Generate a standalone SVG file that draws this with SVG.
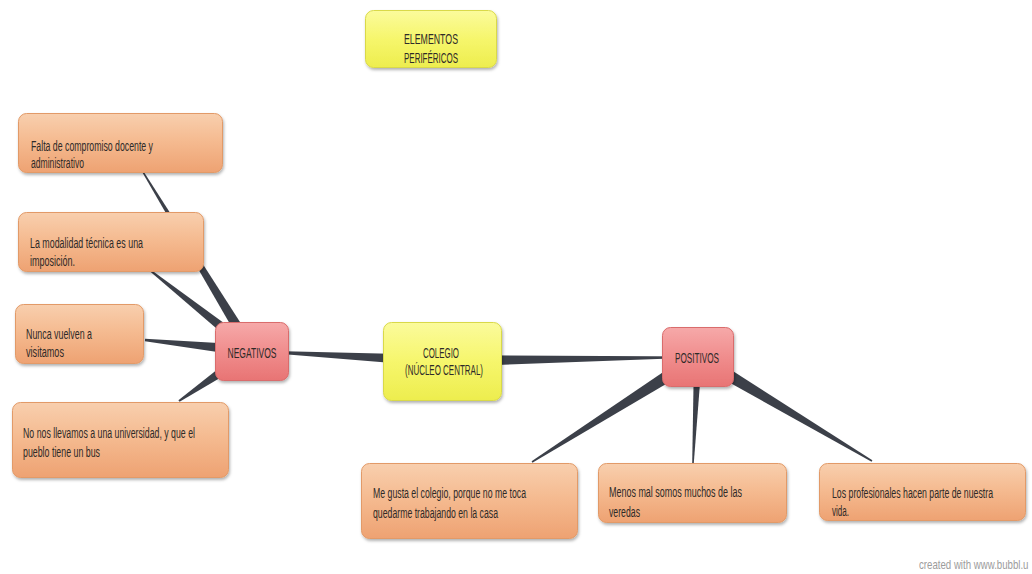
<svg xmlns="http://www.w3.org/2000/svg" width="1032" height="574" viewBox="0 0 1032 574">
<style>
text{font-family:"Liberation Sans",Arial,sans-serif;font-size:14px;fill:#2e2a28;}
.c{text-anchor:middle;}
.wm{font-size:13px;fill:#9c9c9c;}
.or{fill:url(#gOr);stroke:#e29a68;stroke-width:1;filter:url(#sh);}
.rd{fill:url(#gRd);stroke:#d96c6c;stroke-width:1;filter:url(#sh);}
.ye{fill:url(#gYe);stroke:#d9d94a;stroke-width:1;filter:url(#sh);}
.cn{fill:#3c4049;}
</style>
<defs>
<linearGradient id="gOr" x1="0" y1="0" x2="0" y2="1">
<stop offset="0" stop-color="#f8cfae"/><stop offset="0.45" stop-color="#f5bb91"/><stop offset="1" stop-color="#eea272"/>
</linearGradient>
<linearGradient id="gRd" x1="0" y1="0" x2="0" y2="1">
<stop offset="0" stop-color="#f6a9a9"/><stop offset="0.5" stop-color="#f08d8d"/><stop offset="1" stop-color="#e87474"/>
</linearGradient>
<linearGradient id="gYe" x1="0" y1="0" x2="0" y2="1">
<stop offset="0" stop-color="#fbfb9c"/><stop offset="0.5" stop-color="#f6f66c"/><stop offset="1" stop-color="#eded4e"/>
</linearGradient>
<filter id="sh" x="-10%" y="-10%" width="120%" height="130%">
<feDropShadow dx="1" dy="2" stdDeviation="1.5" flood-color="#000" flood-opacity="0.3"/>
</filter>
</defs>
<rect width="1032" height="574" fill="#ffffff"/>

<g id="connectors">
<polygon class="cn" points="142.4,172.4 247.3,353.9 256.7,348.1 143.6,171.6"/>
<polygon class="cn" points="150.4,271.8 248.3,355.7 255.7,346.3 151.6,270.2"/>
<polygon class="cn" points="144.9,341.2 251.4,357 252.6,345 145.1,338.8"/>
<polygon class="cn" points="179.6,401.8 256,356.8 248,345.2 178.4,400.2"/>
<polygon class="cn" points="252,351.5 441.7,367 442.3,355 252,350.5"/>
<polygon class="cn" points="698,356.5 441.9,355 442.1,367 698,357.5"/>
<polygon class="cn" points="532.4,462.7 701.7,362.9 694.3,351.1 531.6,461.3"/>
<polygon class="cn" points="693.8,463 702,357.2 694,356.8 692.2,463"/>
<polygon class="cn" points="872.4,460.3 701.6,351 694.4,363 871.6,461.7"/>
</g>

<g id="elementos">
<rect class="ye" x="365.5" y="10.5" width="131" height="57" rx="8"/>
<text class="c" x="431" y="44" textLength="54" lengthAdjust="spacingAndGlyphs">ELEMENTOS</text>
<text class="c" x="431" y="63" textLength="54" lengthAdjust="spacingAndGlyphs">PERIFÉRICOS</text>
</g>

<g id="falta">
<rect class="or" x="18.5" y="113.5" width="204" height="59" rx="8"/>
<text x="31" y="151" textLength="122" lengthAdjust="spacingAndGlyphs">Falta de compromiso docente y</text>
<text x="31" y="168" textLength="53" lengthAdjust="spacingAndGlyphs">administrativo</text>
</g>

<g id="modalidad">
<rect class="or" x="18.5" y="212.5" width="185" height="59" rx="8"/>
<text x="30" y="248" textLength="113" lengthAdjust="spacingAndGlyphs">La modalidad técnica es una</text>
<text x="30" y="266" textLength="45" lengthAdjust="spacingAndGlyphs">imposición.</text>
</g>

<g id="nunca">
<rect class="or" x="15.5" y="304.5" width="128" height="59" rx="8"/>
<text x="26" y="339" textLength="66" lengthAdjust="spacingAndGlyphs">Nunca vuelven a</text>
<text x="26" y="357" textLength="38" lengthAdjust="spacingAndGlyphs">visitamos</text>
</g>

<g id="nonos">
<rect class="or" x="12.5" y="402.5" width="216" height="75" rx="8"/>
<text x="23" y="438" textLength="172" lengthAdjust="spacingAndGlyphs">No nos llevamos a una universidad, y que el</text>
<text x="23" y="457" textLength="77" lengthAdjust="spacingAndGlyphs">pueblo tiene un bus</text>
</g>

<g id="negativos">
<rect class="rd" x="215.5" y="322.5" width="73" height="58" rx="8"/>
<text class="c" x="252" y="358" textLength="49" lengthAdjust="spacingAndGlyphs">NEGATIVOS</text>
</g>

<g id="colegio">
<rect class="ye" x="383.5" y="322.5" width="118" height="78" rx="8"/>
<text class="c" x="441" y="358" textLength="36" lengthAdjust="spacingAndGlyphs">COLEGIO</text>
<text class="c" x="444" y="375" textLength="78" lengthAdjust="spacingAndGlyphs">(NÚCLEO CENTRAL)</text>
</g>

<g id="positivos">
<rect class="rd" x="662.5" y="327.5" width="71" height="59" rx="8"/>
<text class="c" x="697" y="363" textLength="44" lengthAdjust="spacingAndGlyphs">POSITIVOS</text>
</g>

<g id="megusta">
<rect class="or" x="361.5" y="463.5" width="216" height="75" rx="8"/>
<text x="373" y="498" textLength="153" lengthAdjust="spacingAndGlyphs">Me gusta el colegio, porque no me toca</text>
<text x="373" y="518" textLength="125" lengthAdjust="spacingAndGlyphs">quedarme trabajando en la casa</text>
</g>

<g id="menosmal">
<rect class="or" x="598.5" y="463.5" width="188" height="59" rx="8"/>
<text x="609" y="497" textLength="133" lengthAdjust="spacingAndGlyphs">Menos mal somos muchos de las</text>
<text x="609" y="517" textLength="31" lengthAdjust="spacingAndGlyphs">veredas</text>
</g>

<g id="profesionales">
<rect class="or" x="819.5" y="463.5" width="206" height="57" rx="8"/>
<text transform="translate(832,498) scale(0.66,1)" x="0" y="0" textLength="244" lengthAdjust="spacingAndGlyphs">Los profesionales hacen parte de nuestra</text>
<text x="832" y="516" textLength="17" lengthAdjust="spacingAndGlyphs">vida.</text>
</g>

<text class="wm" transform="translate(919,569) scale(0.73,1)" x="0" y="0" textLength="150" lengthAdjust="spacingAndGlyphs">created with www.bubbl.u</text>
</svg>
